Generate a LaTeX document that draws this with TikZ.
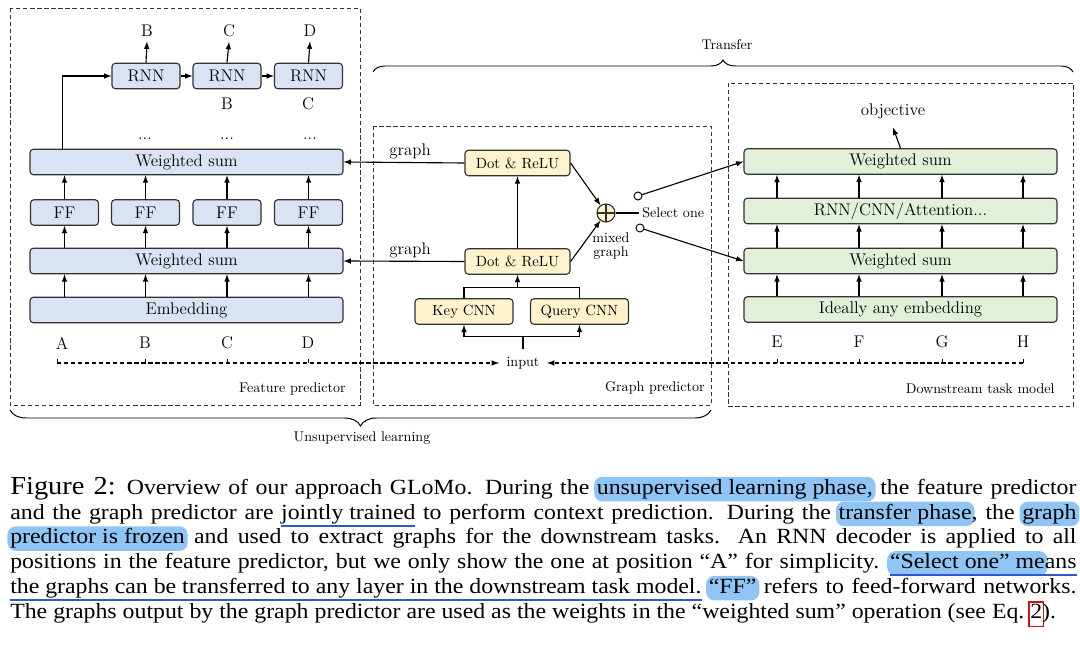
\documentclass[tikz,border=0pt]{standalone}
\usepackage{fontspec}
\usepackage{tikz}
\usetikzlibrary{positioning,arrows,decorations.pathreplacing}
\newfontfamily\capfont[FakeStretch=1.1]{Liberation Serif}
\definecolor{fpblue}{RGB}{218,227,243}
\definecolor{gpyellow}{RGB}{255,242,204}
\definecolor{dtgreen}{RGB}{226,240,217}
\definecolor{boxline}{RGB}{50,50,50}
\definecolor{hlblue}{RGB}{142,197,245}
\definecolor{ulblue}{RGB}{48,88,208}
\definecolor{refred}{RGB}{204,20,20}
\newcommand\mainsz{\fontsize{12}{14}\selectfont}
\newcommand\smallsz{\fontsize{10}{12}\selectfont}
\newcommand\gpsz{\fontsize{10.5}{12}\selectfont}
\newsavebox\hlbox
\newsavebox\ulbox
\newlength\hlw
\newlength\ulw
% caption marks
\newcommand\hlb[1]{\sbox\hlbox{#1}\setlength\hlw{\wd\hlbox}%
  \tikz[baseline=0pt]\fill[overlay,hlblue,rounded corners=6pt] (-2pt,-5pt) rectangle (\hlw+2pt,12.5pt);%
  \usebox\hlbox}
\newcommand\ulb[1]{\sbox\ulbox{#1}\setlength\ulw{\wd\ulbox}%
  \usebox\ulbox\llap{\textcolor{ulblue}{\rule[-5.4pt]{\ulw}{1.5pt}}}}
\newcommand\refbox[1]{\sbox\hlbox{#1}\setlength\hlw{\wd\hlbox}%
  \tikz[baseline=0pt]\draw[overlay,refred,line width=1.2pt] (-1pt,-6pt) rectangle (\hlw+1pt,11.5pt);%
  \usebox\hlbox}
\tikzset{
fpbox/.style={
  draw=boxline,
  fill=fpblue,
  rounded corners=2.5pt,
  line width=0.8pt,
  minimum height=0.64cm,
  inner sep=0pt,
  font=\mainsz
  },
gpbox/.style={fpbox, fill=gpyellow, font=\gpsz},
dtbox/.style={fpbox, fill=dtgreen},
region/.style={draw=black!80, dash pattern=on 3pt off 2pt, line width=0.6pt},
inline/.style={dash pattern=on 3pt off 2pt, line width=0.8pt},
tick/.style={line width=0.6pt},
lbl/.style={inner sep=3pt, font=\mainsz},
smalllbl/.style={inner sep=2pt, font=\smallsz},
mixnode/.style={
  circle, draw=boxline, fill=gpyellow,
  minimum size=0.45cm, inner sep=0pt, line width=0.8pt,
  path picture={\draw[line width=0.8pt]
    (path picture bounding box.north) -- (path picture bounding box.south)
    (path picture bounding box.west) -- (path picture bounding box.east);}
  },
port/.style={circle, draw, fill=white, minimum size=0.2cm, inner sep=0pt, line width=0.7pt},
bracestyle/.style={decorate, decoration={brace, amplitude=0.3cm}, line width=0.7pt},
capnode/.style={
  anchor=north west,
  inner sep=0pt,
  text width=26.65cm,
  align=justify,
  font=\capfont\fontsize{15.4}{17.6}\selectfont
  }
}
\begin{document}
\begin{tikzpicture}[x=0.025cm, y=-0.025cm, >=latex, line width=0.8pt]
\useasboundingbox (0,0) rectangle (1080,648);

% feature predictor
\draw[region] (10,8) rectangle (360,405);
\node[fpbox, minimum width=1.7cm] (rnn1) at (146,76) {RNN};
\node[fpbox, minimum width=1.7cm] (rnn2) at (227,76) {RNN};
\node[fpbox, minimum width=1.7cm] (rnn3) at (308.5,76) {RNN};
\node[lbl] (outB) at (147,31) {B};
\node[lbl] (outC) at (229,31) {C};
\node[lbl] (outD) at (310,31) {D};
\node[lbl] (prevB) at (227,104) {B};
\node[lbl] (prevC) at (308,104) {C};
\node[lbl] (dots1) at (145,139) {...};
\node[lbl] (dots2) at (227,139) {...};
\node[lbl] (dots3) at (310,139) {...};
\node[fpbox, minimum width=7.825cm] (fws2) at (186.5,162) {Weighted sum};
\node[fpbox, minimum width=1.7cm] (ff1) at (64.5,212.5) {FF};
\node[fpbox, minimum width=1.7cm] (ff2) at (145.5,212.5) {FF};
\node[fpbox, minimum width=1.7cm] (ff3) at (227,212.5) {FF};
\node[fpbox, minimum width=1.7cm] (ff4) at (308.5,212.5) {FF};
\node[fpbox, minimum width=7.825cm] (fws1) at (186.5,261) {Weighted sum};
\node[fpbox, minimum width=7.825cm] (femb) at (186.5,310) {Embedding};
\node[lbl] (tokA) at (62,343) {A};
\node[lbl] (tokB) at (145,343) {B};
\node[lbl] (tokC) at (227,343) {C};
\node[lbl] (tokD) at (308,343) {D};
\node[smalllbl, anchor=east] (fplbl) at (349,389) {Feature predictor};

\draw[->] (rnn1.north) -- (outB.south);
\draw[->] (rnn2.north) -- (outC.south);
\draw[->] (rnn3.north) -- (outD.south);
\draw[->] (rnn1.east) -- (rnn2.west);
\draw[->] (rnn2.east) -- (rnn3.west);
\draw[->] ([xshift=0.825cm]fws2.north west) |- (rnn1.west);
\path[->] (ff1.north) edge (ff1.north |- fws2.south)
  (ff2.north) edge (ff2.north |- fws2.south)
  (ff3.north) edge (ff3.north |- fws2.south)
  (ff4.north) edge (ff4.north |- fws2.south);
\path[->] (ff1.south |- fws1.north) edge (ff1.south)
  (ff2.south |- fws1.north) edge (ff2.south)
  (ff3.south |- fws1.north) edge (ff3.south)
  (ff4.south |- fws1.north) edge (ff4.south);
\path[->] (ff1.south |- femb.north) edge (ff1.south |- fws1.south)
  (ff2.south |- femb.north) edge (ff2.south |- fws1.south)
  (ff3.south |- femb.north) edge (ff3.south |- fws1.south)
  (ff4.south |- femb.north) edge (ff4.south |- fws1.south);

% graph predictor
\draw[region] (373,126) rectangle (711,405);
\node[gpbox, minimum width=2.625cm] (dr2) at (517.5,163) {Dot \& ReLU};
\node[gpbox, minimum width=2.625cm] (dr1) at (517.5,261.5) {Dot \& ReLU};
\node[gpbox, minimum width=2.45cm] (kcnn) at (464,311.5) {Key CNN};
\node[gpbox, minimum width=2.45cm] (qcnn) at (579.5,311.5) {Query CNN};
\node[smalllbl, inner xsep=5pt, inner ysep=5.5pt] (inp) at (523,363) {input};
\node[mixnode] (mix) at (606,213) {};
\node[smalllbl, align=center, font=\fontsize{10}{10}\selectfont] (mixlbl) at (611,246) {mixed\\graph};
\node[smalllbl, anchor=west] (sel) at (639,213) {Select one};
\node[port] (p2) at (638,196) {};
\node[port] (p1) at (640,228) {};
\node[smalllbl, anchor=east] (gplbl) at (708,388) {Graph predictor};
\coordinate (kqjoin) at ([yshift=-0.325cm]dr1.south);
\coordinate (split) at ([yshift=0.3cm]inp.north);

\draw[->] (dr2.west) -- node[lbl, above, inner sep=2pt, pos=0.45] (gtop) {graph} (fws2.east);
\draw[->] (dr1.west) -- node[lbl, above, inner sep=2pt, pos=0.45] (gbot) {graph} (fws1.east);
\draw[->] (dr1.north) -- (dr2.south);
\draw (kcnn.north) |- (kqjoin) -| (qcnn.north);
\draw[->] (kqjoin) -- (dr1.south);
\draw (inp.north) -- (split);
\draw[->] (split) -| (kcnn.south);
\draw[->] (split) -| (qcnn.south);
\draw[->] (dr2.east) -- (mix);
\draw[->] (dr1.east) -- (mix);
\draw[line width=1.4pt] (mix.east) -- (sel.west);

% downstream task model
\draw[region] (728,83) rectangle (1073,406);
\node[lbl, inner sep=6pt] (obj) at (893,111) {objective};
\node[dtbox, minimum width=7.825cm] (dws2) at (900.5,161.5) {Weighted sum};
\node[dtbox, minimum width=7.825cm] (drnn) at (900.5,211) {RNN/CNN/Attention...};
\node[dtbox, minimum width=7.825cm] (dws1) at (900.5,261) {Weighted sum};
\node[dtbox, minimum width=7.825cm] (demb) at (900.5,309.5) {Ideally any embedding};
\node[lbl] (tokE) at (777,342) {E};
\node[lbl] (tokF) at (859,342) {F};
\node[lbl] (tokG) at (942,342) {G};
\node[lbl] (tokH) at (1023,342) {H};
\node[smalllbl, anchor=east] (dtlbl) at (1058,389) {Downstream task model};

\draw[->] (dws2.north) -- (obj.south);
\path[->] (tokE |- drnn.north) edge (tokE |- dws2.south)
  (tokF |- drnn.north) edge (tokF |- dws2.south)
  (tokG |- drnn.north) edge (tokG |- dws2.south)
  (tokH |- drnn.north) edge (tokH |- dws2.south);
\path[->] (tokE |- dws1.north) edge (tokE |- drnn.south)
  (tokF |- dws1.north) edge (tokF |- drnn.south)
  (tokG |- dws1.north) edge (tokG |- drnn.south)
  (tokH |- dws1.north) edge (tokH |- drnn.south);
\path[->] (tokE |- demb.north) edge (tokE |- dws1.south)
  (tokF |- demb.north) edge (tokF |- dws1.south)
  (tokG |- demb.north) edge (tokG |- dws1.south)
  (tokH |- demb.north) edge (tokH |- dws1.south);
\draw[->] (p2) -- (dws2.west);
\draw[->] (p1) -- (dws1.west);

% inputs
\coordinate (lstart) at (57,363);
\coordinate (rend) at (1023,363);
\draw[inline, ->] (lstart) -- (inp.west);
\draw[inline, ->] (rend) -- (inp.east);
\draw[tick] (lstart) -- ++(0,-4)
  (tokB |- lstart) -- ++(0,-4)
  (tokC |- lstart) -- ++(0,-4)
  (tokD |- lstart) -- ++(0,-4);
\draw[tick] (rend) -- ++(0,-4)
  (tokE |- rend) -- ++(0,-4)
  (tokF |- rend) -- ++(0,-4)
  (tokG |- rend) -- ++(0,-4);

% braces
\draw[bracestyle] (373,72) -- (1073,72);
\node[smalllbl] (trlbl) at (727,45) {Transfer};
\draw[bracestyle, decoration={amplitude=0.4cm}] (711,410) -- (10,410);
\node[smalllbl] (ullbl) at (362,438) {Unsupervised learning};

% caption
\node[capnode] (cap) at (10,477) {{\fontsize{18.4}{17.6}\selectfont Figure 2:} Overview of our approach GLoMo. During the \hlb{unsupervised learning phase,} the feature predictor\linebreak
and the graph predictor are \ulb{jointly trained} to perform context prediction. During the \hlb{transfer phase}, the \hlb{graph}\linebreak
\hlb{predictor is frozen} and used to extract graphs for the downstream tasks. An RNN decoder is applied to all\linebreak
positions in the feature predictor, but we only show the one at position “A” for simplicity. \ulb{\hlb{“Select one” me}ans}\linebreak
\ulb{the graphs can be transferred to any layer in the downstream task model.} \hlb{“FF”} refers to feed-forward networks.\linebreak
The graphs output by the graph predictor are used as the weights in the “weighted sum” operation (see Eq.~\refbox{2}).};
\end{tikzpicture}
\end{document}
